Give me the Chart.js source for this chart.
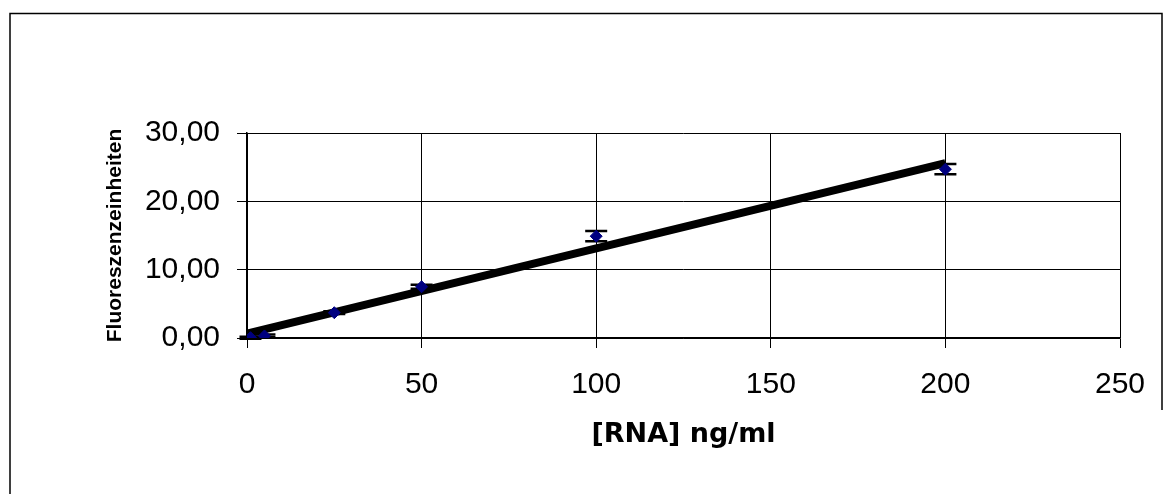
<!DOCTYPE html>
<html>
<head>
<meta charset="utf-8">
<script src="https://cdn.jsdelivr.net/npm/chart.js@4.4.0/dist/chart.umd.min.js"></script>
<style>
  html, body { margin: 0; padding: 0; background: #fff; }
  #wrap { width: 1175px; height: 494px; position: relative; }
</style>
</head>
<body>
<div id="wrap"><canvas id="chart"></canvas></div>
<script>
// RNA standard curve: concentration vs. fluorescence
const rnaConc = [1, 5, 25, 50, 100, 200];
const fluorMean = [0.05, 0.3, 3.7, 7.5, 14.9, 24.7];
const fluorErr = [0.15, 0.2, 0.2, 0.3, 0.75, 0.75];

// linear trend line end points
const trendX = [0, 200];
const trendY = [0.65, 25.6];

const xTicks = [0, 50, 100, 150, 200, 250];
const yTicks = [0, 10, 20, 30];

const errorBars = {
  id: 'errorBars',
  beforeDatasetsDraw(chart) {
    const { ctx, scales: { x, y } } = chart;
    ctx.save();
    ctx.strokeStyle = '#000';
    ctx.lineWidth = 2.5;
    rnaConc.forEach((c, i) => {
      const px = x.getPixelForValue(c);
      const top = y.getPixelForValue(fluorMean[i] + fluorErr[i]);
      const bot = y.getPixelForValue(fluorMean[i] - fluorErr[i]);
      ctx.beginPath();
      ctx.moveTo(px, top); ctx.lineTo(px, bot);
      ctx.moveTo(px - 11, top); ctx.lineTo(px + 11, top);
      ctx.moveTo(px - 11, bot); ctx.lineTo(px + 11, bot);
      ctx.stroke();
    });
    ctx.restore();
  }
};

// frame and axis titles
const decor = {
  id: 'decor',
  afterDraw(chart) {
    const { ctx, chartArea } = chart;
    ctx.save();
    ctx.strokeStyle = '#000';
    ctx.lineWidth = 1.5;
    ctx.beginPath();
    ctx.moveTo(10, 494); ctx.lineTo(10, 13.5);
    ctx.lineTo(1162, 13.5); ctx.lineTo(1162, 410);
    ctx.stroke();

    ctx.fillStyle = '#000';
    ctx.textAlign = 'center';
    ctx.textBaseline = 'middle';
    ctx.font = 'bold 27px "DejaVu Sans"';
    ctx.fillText('[RNA] ng/ml', (chartArea.left + chartArea.right) / 2, 435);

    ctx.translate(115, (chartArea.top + chartArea.bottom) / 2);
    ctx.rotate(-Math.PI / 2);
    ctx.font = 'bold 21px "Liberation Sans", Arial';
    ctx.fillText('Fluoreszenzeinheiten', 0, 0);
    ctx.restore();
  }
};

new Chart(document.getElementById('chart'), {
  type: 'scatter',
  data: {
    datasets: [
      {
        label: 'Mittelwert',
        data: rnaConc.map((c, i) => ({ x: c, y: fluorMean[i] })),
        pointStyle: 'rectRot',
        pointRadius: 6,
        backgroundColor: '#000080',
        borderColor: '#000080',
        borderWidth: 1,
        order: 0
      },
      {
        label: 'Trend',
        type: 'line',
        data: trendX.map((c, i) => ({ x: c, y: trendY[i] })),
        borderColor: '#000',
        borderWidth: 8,
        borderCapStyle: 'butt',
        pointRadius: 0,
        fill: false,
        order: 1
      }
    ]
  },
  options: {
    responsive: true,
    maintainAspectRatio: false,
    animation: false,
    layout: { padding: { left: 0, top: 133, right: 55, bottom: 0 } },
    plugins: { legend: { display: false }, tooltip: { enabled: false } },
    scales: {
      x: {
        type: 'linear',
        min: 0, max: 250,
        afterBuildTicks: s => { s.ticks = xTicks.map(v => ({ value: v })); },
        afterFit: s => { s.height = 156; },
        grid: { color: '#000', lineWidth: 1, tickLength: 10, drawTicks: true },
        border: { color: '#000', width: 1.5 },
        ticks: {
          color: '#000',
          padding: 19,
          maxRotation: 0,
          font: { family: '"Liberation Sans", Arial', size: 30 }
        }
      },
      y: {
        type: 'linear',
        min: 0, max: 30,
        afterBuildTicks: s => { s.ticks = yTicks.map(v => ({ value: v })); },
        afterFit: s => { s.width = 247; },
        grid: { color: '#000', lineWidth: 1, tickLength: 10, drawTicks: true },
        border: { color: '#000', width: 1.5 },
        ticks: {
          color: '#000',
          padding: 17,
          font: { family: '"Liberation Sans", Arial', size: 30 },
          callback: v => v.toFixed(2).replace('.', ',')
        }
      }
    }
  },
  plugins: [errorBars, decor]
});
</script>
</body>
</html>
